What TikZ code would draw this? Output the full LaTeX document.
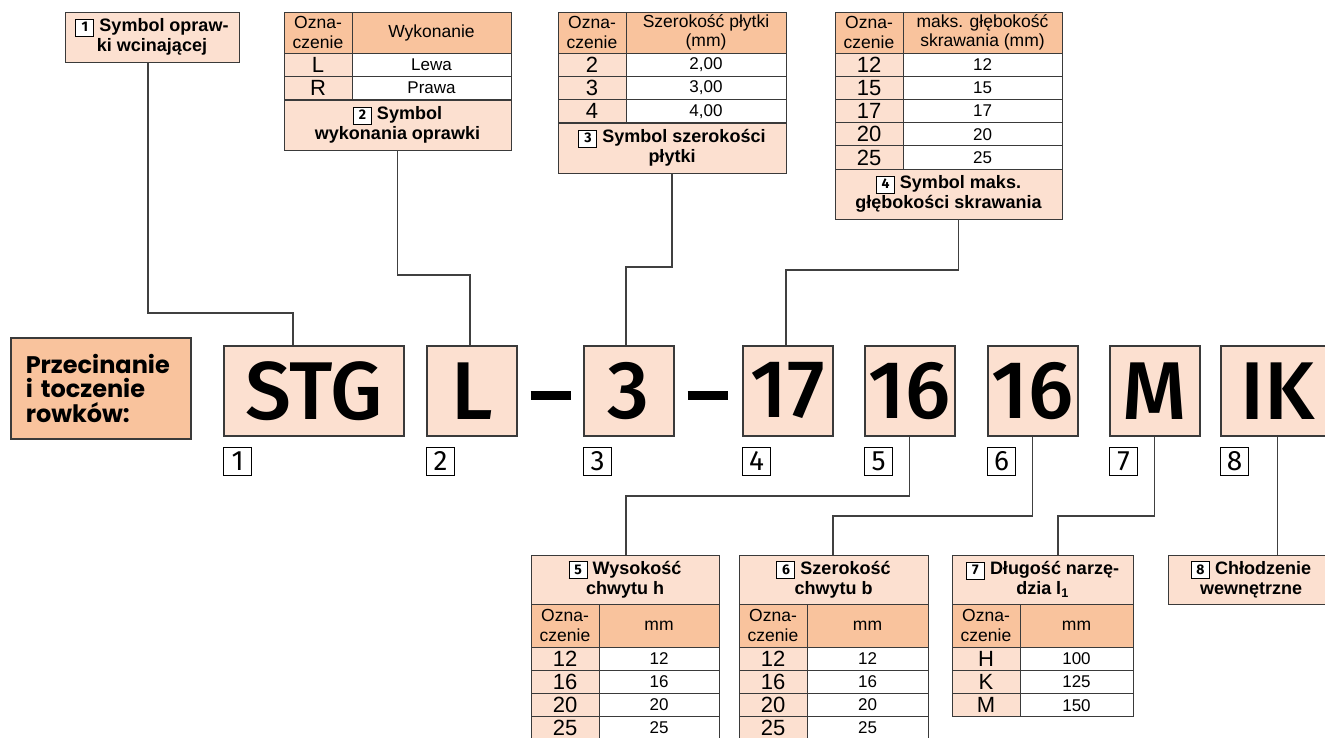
\documentclass[tikz,border=0pt]{standalone}
\usepackage{fontspec}
\setmainfont{Liberation Sans}
\newfontfamily\codefont{Fira Sans Medium}
\newfontfamily\digitfont{Fira Sans}
\newfontfamily\headfont{Poppins}
\usetikzlibrary{positioning}

\definecolor{peach}{HTML}{FCE0D0}
\definecolor{apricot}{HTML}{F9C39D}
\definecolor{rule}{HTML}{3A3A3A}

% small framed number inside the captions
\newcommand{\nr}[1]{{\setlength{\fboxsep}{1.5pt}\setlength{\fboxrule}{1pt}%
  \fcolorbox{black}{white}{\digitfont\fontsize{14}{14}\selectfont\makebox[14pt]{\rule[-2.5pt]{0pt}{13pt}#1}}}}

\tikzset{
  cell/.style={draw=rule, line width=1pt, inner sep=0pt, outer sep=0pt, anchor=north west},
  hdrcell/.style={cell, fill=apricot, align=center, font=\fontsize{17.5}{19.5}\selectfont},
  symcell/.style={cell, fill=peach, minimum width=68, minimum height=23.3, font=\fontsize{22}{22}\selectfont},
  valcell/.style={cell, fill=white, minimum height=23.3, font=\fontsize{17}{17}\selectfont},
  capcell/.style={cell, fill=peach, align=center, font=\bfseries\fontsize{18}{20}\selectfont},
  codebox/.style={draw=rule, line width=1.5pt, fill=peach, inner sep=0pt, anchor=north west,
    minimum width=90, minimum height=90, font=\codefont\fontsize{82}{82}\selectfont},
  numbox/.style={draw=black, line width=1.3pt, fill=white, inner sep=0pt,
    minimum width=28, minimum height=28, font=\digitfont\fontsize{28}{28}\selectfont},
  titlebox/.style={draw=rule, line width=1.5pt, fill=apricot, anchor=north west,
    minimum width=180, minimum height=101, text width=150, inner xsep=15, align=left,
    font=\headfont\bfseries\fontsize{24}{24.5}\selectfont},
  link/.style={draw=black!75, line width=1.1pt},
}

\begin{document}
\begin{tikzpicture}[x=1pt, y=-1pt]
\useasboundingbox (0,0) rectangle (1325,737);

% title
\node[titlebox] (title) at (10,337) {Przecinanie\\i toczenie\\rowków:};

% code boxes
\node[codebox, minimum width=180] (stg) at (223,345) {STG};
\node[codebox] (cL) at (426,345) {L};
\node[codebox] (c3) at (583,345) {3};
\node[codebox] (c17) at (742,345) {17};
\node[codebox] (c16a) at (864,345) {16};
\node[codebox] (c16b) at (987,345) {16};
\node[codebox] (cM) at (1109,345) {M};
\node[codebox, minimum width=114] (cIK) at (1220,345) {IK};

\draw[line width=9pt] ([xshift=13pt,yshift=-5pt]cL.east) -- ([xshift=-12pt,yshift=-5pt]c3.west);
\draw[line width=9pt] ([xshift=13pt,yshift=-5pt]c3.east) -- ([xshift=-14pt,yshift=-5pt]c17.west);

% numbers under the code
\node[numbox, below right=10pt and 0pt of stg.south west] (n1) {1};
\node[numbox, below right=10pt and 0pt of cL.south west] (n2) {2};
\node[numbox, below right=10pt and 0pt of c3.south west] (n3) {3};
\node[numbox, below right=10pt and 0pt of c17.south west] (n4) {4};
\node[numbox, below right=10pt and 0pt of c16a.south west] (n5) {5};
\node[numbox, below right=10pt and 0pt of c16b.south west] (n6) {6};
\node[numbox, below right=10pt and 0pt of cM.south west] (n7) {7};
\node[numbox, below right=10pt and 0pt of cIK.south west] (n8) {8};

% 1: holder symbol
\node[capcell, minimum width=174, minimum height=50] (t1cap) at (65,12) {\nr{1} Symbol opraw-\\ki wcinającej};

% 2: version
\node[hdrcell, minimum width=68, minimum height=41] (t2h1) at (284,12) {Ozna-\\czenie};
\node[hdrcell, minimum width=159, minimum height=41] (t2h2) at (352,12) {Wykonanie};
\foreach \s/\v [count=\i] in {L/Lewa, R/Prawa} {
  \node[symcell] (t2s\i) at (284,{53+(\i-1)*23.3}) {\s};
  \node[valcell, minimum width=159] (t2v\i) at (352,{53+(\i-1)*23.3}) {\v};
}
\node[capcell, minimum width=227, minimum height=50] (t2cap) at (284,100) {\nr{2} Symbol\\wykonania oprawki};

% 3: insert width
\node[hdrcell, minimum width=68, minimum height=41] (t3h1) at (558,12) {Ozna-\\czenie};
\node[hdrcell, minimum width=160, minimum height=41] (t3h2) at (626,12) {Szerokość płytki\\(mm)};
\foreach \s/\v [count=\i] in {2/{2,00}, 3/{3,00}, 4/{4,00}} {
  \node[symcell] (t3s\i) at (558,{53+(\i-1)*23.3}) {\s};
  \node[valcell, minimum width=160] (t3v\i) at (626,{53+(\i-1)*23.3}) {\v};
}
\node[capcell, minimum width=228, minimum height=50] (t3cap) at (558,123) {\nr{3} Symbol szerokości\\płytki};

% 4: max. cutting depth
\node[hdrcell, minimum width=68, minimum height=41] (t4h1) at (835,12) {Ozna-\\czenie};
\node[hdrcell, minimum width=159, minimum height=41] (t4h2) at (903,12) {maks. głębokość\\skrawania (mm)};
\foreach \s [count=\i] in {12,15,17,20,25} {
  \node[symcell] (t4s\i) at (835,{53+(\i-1)*23.2}) {\s};
  \node[valcell, minimum width=159] (t4v\i) at (903,{53+(\i-1)*23.2}) {\s};
}
\node[capcell, minimum width=227, minimum height=50] (t4cap) at (835,169) {\nr{4} Symbol maks.\\głębokości skrawania};

% 5: shank height
\node[capcell, minimum width=188, minimum height=49] (t5cap) at (531,555) {\nr{5} Wysokość\\chwytu h};
\node[hdrcell, minimum width=68, minimum height=43] (t5h1) at (531,604) {Ozna-\\czenie};
\node[hdrcell, minimum width=120, minimum height=43] (t5h2) at (599,604) {mm};
\foreach \s [count=\i] in {12,16,20,25} {
  \node[symcell] (t5s\i) at (531,{647+(\i-1)*23.1}) {\s};
  \node[valcell, minimum width=120] (t5v\i) at (599,{647+(\i-1)*23.1}) {\s};
}

% 6: shank width
\node[capcell, minimum width=189, minimum height=49] (t6cap) at (739,555) {\nr{6} Szerokość\\chwytu b};
\node[hdrcell, minimum width=68, minimum height=43] (t6h1) at (739,604) {Ozna-\\czenie};
\node[hdrcell, minimum width=121, minimum height=43] (t6h2) at (807,604) {mm};
\foreach \s [count=\i] in {12,16,20,25} {
  \node[symcell] (t6s\i) at (739,{647+(\i-1)*23.1}) {\s};
  \node[valcell, minimum width=121] (t6v\i) at (807,{647+(\i-1)*23.1}) {\s};
}

% 7: tool length
\node[capcell, minimum width=181, minimum height=49] (t7cap) at (952,555) {\nr{7} Długość narzę-\\dzia l\textsubscript{1}};
\node[hdrcell, minimum width=68, minimum height=43] (t7h1) at (952,604) {Ozna-\\czenie};
\node[hdrcell, minimum width=113, minimum height=43] (t7h2) at (1020,604) {mm};
\foreach \s/\v [count=\i] in {H/100, K/125, M/150} {
  \node[symcell] (t7s\i) at (952,{647+(\i-1)*23.3}) {\s};
  \node[valcell, minimum width=113] (t7v\i) at (1020,{647+(\i-1)*23.3}) {\v};
}

% 8: internal coolant
\node[capcell, minimum width=166, minimum height=49] (t8cap) at (1168,555) {\nr{8} Chłodzenie\\wewnętrzne};

% connectors
\coordinate (e1) at (293,313);
\coordinate (e2) at (470,275);
\coordinate (e3) at (626,267);
\coordinate (e4) at (786,270);
\coordinate (e5) at (626,496);
\coordinate (e6) at (833,516);
\coordinate (e7) at (1058,516);
\draw[link] (t1cap.south -| 148,0) |- (e1) -- (e1 |- stg.north);
\draw[link] (t2cap.south) |- (e2) -- (e2 |- cL.north);
\draw[link] (t3cap.south) |- (e3) -- (e3 |- c3.north);
\draw[link] ([xshift=10pt]t4cap.south) |- (e4) -- (e4 |- c17.north);
\draw[link] (c16a.south) |- (e5) -- (e5 |- t5cap.north);
\draw[link] (c16b.south) |- (e6) -- (e6 |- t6cap.north);
\draw[link] (cM.south) |- (e7) -- (e7 |- t7cap.north);
\draw[link] (cIK.south) -- (t8cap.north -| cIK.south);
\end{tikzpicture}
\end{document}
